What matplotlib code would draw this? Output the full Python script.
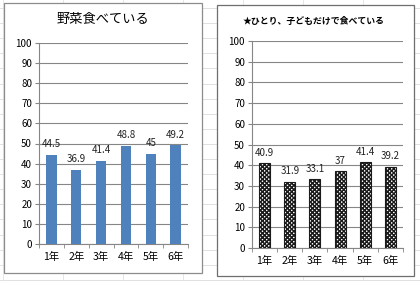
import matplotlib
matplotlib.use("Agg")
import matplotlib.pyplot as plt
from matplotlib.patches import Rectangle
from matplotlib.lines import Line2D

plt.rcParams["font.family"] = ["Noto Sans CJK JP", "DejaVu Sans"]
plt.rcParams["hatch.linewidth"] = 1.0

grades = ["1年", "2年", "3年", "4年", "5年", "6年"]
veg = [44.5, 36.9, 41.4, 48.8, 45, 49.2]
alone = [40.9, 31.9, 33.1, 37, 41.4, 39.2]
title_veg = "野菜食べている"
title_alone = "★ひとり、子どもだけで食べている"
yticks = [0, 10, 20, 30, 40, 50, 60, 70, 80, 90, 100]

W, H = 420, 281
fig = plt.figure(figsize=(W / 100, H / 100), dpi=100)
fig.patch.set_facecolor("white")


def fx(px):
    return px / W


def fy(py):
    return 1 - py / H


# spreadsheet grid in the background
for k in range(20):
    y = 8 + 15.1 * k
    fig.add_artist(Line2D([0, 1], [fy(y), fy(y)], color="#dcdcdc", lw=0.6, zorder=0))
for x in [3, 63, 123, 183, 243, 303, 363]:
    fig.add_artist(Line2D([fx(x), fx(x)], [0, 1], color="#e2e2e2", lw=0.6, zorder=0))

# chart boxes
fig.add_artist(Rectangle((fx(4), fy(273)), fx(198), 270 / H, facecolor="white",
                         edgecolor="#8c8c8c", lw=0.9, zorder=1))
fig.add_artist(Rectangle((fx(217), fy(276)), fx(197), 271 / H, facecolor="white",
                         edgecolor="#6e6e6e", lw=0.9, zorder=1))


def setup(ax, vals, bar_kw, lab_size):
    x = range(len(vals))
    ax.set_facecolor("none")
    ax.set_zorder(2)
    ax.bar(x, vals, zorder=3, **bar_kw)
    for i, v in enumerate(vals):
        ax.annotate(f"{v:g}", (i, v), xytext=(0, 4), textcoords="offset points",
                    ha="center", va="bottom", fontsize=lab_size, color="#222222", zorder=4)
    ax.set_xlim(-0.5, len(vals) - 0.5)
    ax.set_ylim(0, 100)
    ax.set_yticks(yticks)
    ax.set_xticks(list(x))
    ax.set_xticklabels(grades, fontsize=7.5)
    ax.set_xticks([i - 0.5 for i in range(len(vals) + 1)], minor=True)
    ax.tick_params(axis="x", which="major", length=0, pad=6)
    ax.tick_params(axis="x", which="minor", length=3, color="#868686")
    ax.tick_params(axis="y", length=3, color="#868686", labelsize=7, pad=2)
    ax.yaxis.grid(True, color="#868686", lw=0.8)
    ax.set_axisbelow(True)
    for s in ["top", "right"]:
        ax.spines[s].set_visible(False)
    for s in ["left", "bottom"]:
        ax.spines[s].set_color("#868686")
        ax.spines[s].set_linewidth(0.8)


ax1 = fig.add_axes([fx(39), fy(244), fx(149), 201 / H])
setup(ax1, veg, dict(width=0.42, color="#4f81bd"), 7)
fig.text(fx(103), fy(19), title_veg, ha="center", va="center", fontsize=9.5)

ax2 = fig.add_axes([fx(252), fy(248), fx(151), 207 / H])
setup(ax2, alone, dict(width=0.44, facecolor="white", edgecolor="#1a1a1a",
                       hatch="xxxxxxxx", linewidth=0.8), 7)
fig.text(fx(314), fy(21), title_alone, ha="center", va="center", fontsize=6.4,
         fontweight="bold")

fig.savefig("out.png", dpi=100)
